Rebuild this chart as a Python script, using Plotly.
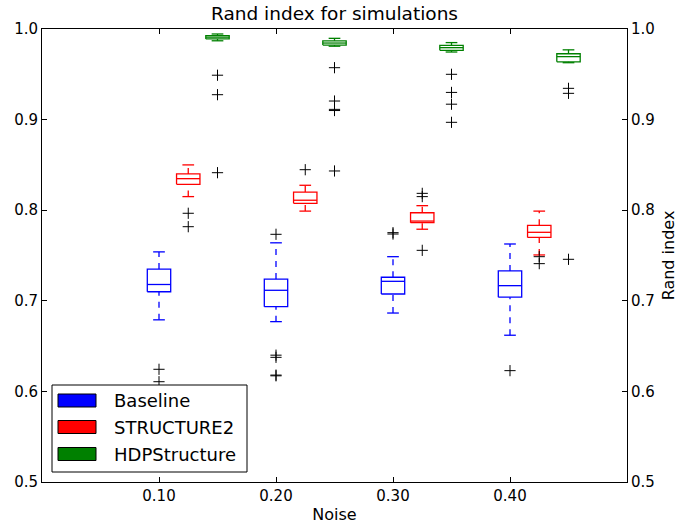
import plotly.graph_objects as go

# ---------------- data ----------------
noise = [0.10, 0.20, 0.30, 0.40]
tick_labels = ["0.10", "0.20", "0.30", "0.40"]
y_ticks = [0.5, 0.6, 0.7, 0.8, 0.9, 1.0]
y_tick_labels = ["0.5", "0.6", "0.7", "0.8", "0.9", "1.0"]

series_names = ["Baseline", "STRUCTURE2", "HDPStructure"]
series_colors = ["#0000ff", "#ff0000", "#008000"]

baseline_whislo = [0.679, 0.677, 0.6865, 0.662]
baseline_q1 = [0.710, 0.6935, 0.7075, 0.704]
baseline_med = [0.718, 0.7116, 0.7215, 0.7167]
baseline_q3 = [0.735, 0.724, 0.726, 0.733]
baseline_whishi = [0.754, 0.764, 0.7487, 0.7627]
baseline_fliers = [[0.6244, 0.6107], [0.7734, 0.640, 0.6376, 0.618, 0.6172],
                   [0.7752, 0.7737], [0.6229]]

structure_whislo = [0.815, 0.799, 0.779, 0.7506]
structure_q1 = [0.8286, 0.8076, 0.7862, 0.770]
structure_med = [0.8348, 0.811, 0.788, 0.7756]
structure_q3 = [0.840, 0.820, 0.7972, 0.7833]
structure_whishi = [0.850, 0.8275, 0.805, 0.799]
structure_fliers = [[0.7966, 0.7818], [0.8447], [0.8186, 0.815, 0.7557],
                    [0.7487, 0.741]]

hdp_whislo = [0.987, 0.981, 0.9746, 0.9628]
hdp_q1 = [0.989, 0.9823, 0.9765, 0.9638]
hdp_med = [0.991, 0.9845, 0.9794, 0.9695]
hdp_q3 = [0.9926, 0.987, 0.982, 0.9727]
hdp_whishi = [0.9945, 0.9897, 0.985, 0.977]
hdp_fliers = [[0.949, 0.9275, 0.8414], [0.9573, 0.9205, 0.9113, 0.910, 0.8433],
              [0.950, 0.930, 0.917, 0.897], [0.9345, 0.929, 0.7458]]

series_stats = [
    (baseline_whislo, baseline_q1, baseline_med, baseline_q3, baseline_whishi, baseline_fliers),
    (structure_whislo, structure_q1, structure_med, structure_q3, structure_whishi, structure_fliers),
    (hdp_whislo, hdp_q1, hdp_med, hdp_q3, hdp_whishi, hdp_fliers),
]

# ---------------- layout constants ----------------
GROUP_OFFSET = 0.025
BOX_HALF = 0.01
CAP_HALF = 0.005
FONT = "DejaVu Sans"

fig = go.Figure()

for si, (lo, q1, med, q3, hi, fl) in enumerate(series_stats):
    color = series_colors[si]
    sx, sy, dx, dy, fx, fy = [], [], [], [], [], []
    for i, n in enumerate(noise):
        c = n + si * GROUP_OFFSET
        # box
        sx += [c - BOX_HALF, c + BOX_HALF, c + BOX_HALF, c - BOX_HALF, c - BOX_HALF, None]
        sy += [q1[i], q1[i], q3[i], q3[i], q1[i], None]
        # median
        sx += [c - BOX_HALF, c + BOX_HALF, None]
        sy += [med[i], med[i], None]
        # caps
        sx += [c - CAP_HALF, c + CAP_HALF, None, c - CAP_HALF, c + CAP_HALF, None]
        sy += [lo[i], lo[i], None, hi[i], hi[i], None]
        # whiskers
        dx += [c, c, None, c, c, None]
        dy += [lo[i], q1[i], None, q3[i], hi[i], None]
        for v in fl[i]:
            fx.append(c)
            fy.append(v)
    fig.add_trace(go.Scatter(x=dx, y=dy, mode="lines", showlegend=False,
                             line=dict(color=color, width=1.3, dash="6px,6px"),
                             hoverinfo="skip"))
    fig.add_trace(go.Scatter(x=sx, y=sy, mode="lines", showlegend=False,
                             line=dict(color=color, width=1.3),
                             hoverinfo="skip"))
    fig.add_trace(go.Scatter(x=fx, y=fy, mode="markers", showlegend=False, yaxis="y2",
                             marker=dict(symbol="cross-thin", size=8,
                                         line=dict(color="black", width=1)),
                             hoverinfo="skip"))

# plot area in pixels
L, R, T, B = 42, 627, 29, 482
W, H = 678, 525


def px(xp):
    return (xp - L) / (R - L)


def py(yp):
    return (B - yp) / (B - T)


shapes = []
annotations = []
# legend frame
shapes.append(dict(type="rect", xref="paper", yref="paper",
                   x0=px(52), x1=px(247), y0=py(472), y1=py(385),
                   line=dict(color="black", width=1), fillcolor="white", layer="above"))
row_centers = [400.5, 427, 454]
for name, color, yc in zip(series_names, series_colors, row_centers):
    shapes.append(dict(type="rect", xref="paper", yref="paper",
                       x0=px(58), x1=px(96), y0=py(yc + 6.5), y1=py(yc - 6.5),
                       line=dict(color="black", width=1), fillcolor=color, layer="above"))
    annotations.append(dict(text=name, xref="paper", yref="paper",
                            x=px(112), y=py(yc), xanchor="left", yanchor="middle",
                            showarrow=False, font=dict(family=FONT, size=18, color="black")))

axis_common = dict(showgrid=False, zeroline=False, showline=True, linecolor="black",
                   linewidth=1, ticks="inside", ticklen=5, tickcolor="black",
                   tickfont=dict(family=FONT, size=15, color="black"))

fig.update_layout(
    width=W, height=H,
    margin=dict(l=L, r=W - R, t=T, b=H - B, autoexpand=False),
    paper_bgcolor="white", plot_bgcolor="white",
    title=dict(text="Rand index for simulations", x=0.5, xref="paper",
               y=1 - 14 / H, yanchor="middle", yref="container",
               font=dict(family=FONT, size=18.5, color="black")),
    xaxis=dict(range=[0, 0.5], tickvals=noise, ticktext=tick_labels,
               mirror="ticks",
               title=dict(text="Noise", standoff=4,
                          font=dict(family=FONT, size=16, color="black")),
               **axis_common),
    yaxis=dict(range=[0.5, 1.0], tickvals=y_ticks, ticktext=y_tick_labels,
               **axis_common),
    yaxis2=dict(range=[0.5, 1.0], tickvals=y_ticks, ticktext=y_tick_labels,
                overlaying="y", side="right",
                title=dict(text="Rand index", standoff=8,
                           font=dict(family=FONT, size=16, color="black")),
                **axis_common),
    shapes=shapes,
    annotations=annotations,
    showlegend=False,
)

fig.write_html("out.html")
